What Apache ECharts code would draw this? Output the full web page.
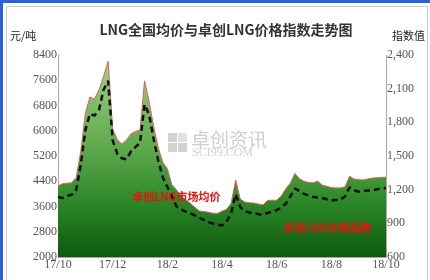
<!DOCTYPE html>
<html>
<head>
<meta charset="utf-8">
<script src="https://cdn.jsdelivr.net/npm/echarts@6/dist/echarts.min.js"></script>
<style>
html,body{margin:0;padding:0;background:#fff;}
#chart{width:430px;height:280px;}
</style>
</head>
<body>
<div id="chart"></div>
<script>
const titleText = 'LNG全国均价与卓创LNG价格指数走势图';
const leftUnit = '元/吨';
const rightUnit = '指数值';
const seriesNames = ['卓创LNG市场均价', '卓创LNG价格指数'];
const tickLabels = ['17/10', '17/12', '18/2', '18/4', '18/6', '18/8', '18/10'];

const categories = [
  '17/10/01','17/10/06','17/10/11','17/10/16','17/10/21','17/10/26',
  '17/11/01','17/11/06','17/11/11','17/11/16','17/11/21','17/11/26',
  '17/12/01','17/12/06','17/12/11','17/12/16','17/12/21','17/12/26',
  '18/01/01','18/01/06','18/01/11','18/01/16','18/01/21','18/01/26',
  '18/02/01','18/02/06','18/02/11','18/02/16','18/02/21','18/02/26',
  '18/03/01','18/03/06','18/03/11','18/03/16','18/03/21','18/03/26',
  '18/04/01','18/04/06','18/04/11','18/04/16','18/04/21','18/04/26',
  '18/05/01','18/05/06','18/05/11','18/05/16','18/05/21','18/05/26',
  '18/06/01','18/06/06','18/06/11','18/06/16','18/06/21','18/06/26',
  '18/07/01','18/07/06','18/07/11','18/07/16','18/07/21','18/07/26',
  '18/08/01','18/08/06','18/08/11','18/08/16','18/08/21','18/08/26',
  '18/09/01','18/09/06','18/09/11','18/09/16','18/09/21','18/09/26',
  '18/10/01'
];

// 卓创LNG市场均价 (元/吨, left axis)
const avgPrice = [
  4250,4320,4340,4350,4520,5350,
  6550,7070,7000,7300,7720,8200,
  6050,5720,5580,5700,5900,5980,
  6020,7580,6930,6130,5460,5000,
  4800,4290,4130,3930,3820,3710,
  3580,3460,3440,3420,3390,3380,
  3450,3510,3700,4440,3840,3740,
  3720,3710,3680,3650,3790,3800,
  3800,3930,4160,4340,4650,4480,
  4400,4360,4350,4400,4280,4240,
  4200,4190,4190,4220,4560,4470,
  4450,4440,4470,4500,4510,4520,
  4530
];

// 卓创LNG价格指数 (right axis)
const priceIndex = [
  1135,1125,1145,1155,1200,1420,
  1730,1875,1860,1910,2090,2170,
  1640,1520,1480,1470,1540,1580,
  1615,1960,1870,1650,1460,1310,
  1225,1140,1050,1025,1005,990,
  970,950,930,910,898,888,
  880,915,990,1160,1045,1010,
  997,990,982,975,992,1005,
  1017,1040,1075,1140,1210,1190,
  1163,1148,1134,1130,1125,1115,
  1106,1108,1110,1140,1220,1195,
  1182,1190,1192,1195,1203,1210,
  1215
];

const chart = echarts.init(document.getElementById('chart'), null, {renderer: 'canvas'});
const axisFont = {fontFamily: 'Liberation Serif', fontSize: 12, color: '#555'};

chart.setOption({
  backgroundColor: '#fff',
  animation: false,
  title: {
    text: titleText,
    left: 221, top: 18, textAlign: 'center',
    textStyle: {fontFamily: 'Noto Sans CJK SC', fontSize: 14, fontWeight: 'bold', color: '#333'}
  },
  grid: {left: 58, right: 44, top: 55, bottom: 23, containLabel: false},
  xAxis: {
    type: 'category',
    data: categories,
    boundaryGap: false,
    axisLine: {show: true, lineStyle: {color: '#aaa', width: 1}},
    axisTick: {show: false},
    splitLine: {show: false},
    axisLabel: Object.assign({}, axisFont, {
      interval: 11,
      margin: 2,
      formatter: function (v, idx) { return idx % 12 === 0 ? tickLabels[idx / 12] : ''; }
    })
  },
  yAxis: [
    {
      type: 'value', min: 2000, max: 8400, interval: 800, position: 'left',
      axisLine: {show: true, lineStyle: {color: '#aaa', width: 1}},
      axisTick: {show: false},
      splitLine: {show: false},
      axisLabel: Object.assign({}, axisFont, {
        margin: 1,
        formatter: function (v) { return String(v); }
      })
    },
    {
      type: 'value', min: 600, max: 2400, interval: 300, position: 'right',
      axisLine: {show: true, lineStyle: {color: '#aaa', width: 1}},
      axisTick: {show: false},
      splitLine: {show: false},
      axisLabel: Object.assign({}, axisFont, {
        margin: 1,
        formatter: function (v) { return v.toLocaleString('en-US'); }
      })
    }
  ],
  series: [
    {
      name: seriesNames[0],
      type: 'line',
      yAxisIndex: 0,
      data: avgPrice,
      showSymbol: false,
      smooth: false,
      lineStyle: {color: '#e0605a', width: 1},
      areaStyle: {
        origin: 'start',
        opacity: 1,
        color: new echarts.graphic.LinearGradient(0, 0, 0, 1, [
          {offset: 0, color: '#9ccf88'},
          {offset: 0.45, color: '#5ea84c'},
          {offset: 0.7, color: '#2f8a2a'},
          {offset: 1, color: '#0d5a0f'}
        ])
      },
      z: 2
    },
    {
      name: seriesNames[1],
      type: 'line',
      yAxisIndex: 1,
      data: priceIndex,
      showSymbol: false,
      smooth: false,
      lineStyle: {color: '#111', width: 2.5, type: [6, 4]},
      z: 3
    }
  ],
  graphic: [
    {type: 'rect', shape: {x: 0, y: 0, width: 430, height: 3}, style: {fill: '#2a62d6'}, z: 100},
    {type: 'rect', shape: {x: 0, y: 0, width: 3, height: 280}, style: {fill: '#2a62d6'}, z: 100},
    {type: 'rect', shape: {x: 6.5, y: 6.5, width: 421, height: 280}, style: {fill: 'none', stroke: '#d0d0d0', lineWidth: 1}, z: 100},
    {type: 'text', left: 10, top: 30, style: {text: leftUnit, font: '11px "Noto Sans CJK SC"', fill: '#222'}, z: 100},
    {type: 'text', left: 392, top: 30, style: {text: rightUnit, font: '11px "Noto Sans CJK SC"', fill: '#222'}, z: 100},
    // watermark
    {type: 'rect', shape: {x: 168, y: 133, width: 9, height: 9}, style: {fill: '#d2d2d2'}, z: 0},
    {type: 'rect', shape: {x: 178, y: 133, width: 9, height: 9}, style: {fill: '#e2e2e2'}, z: 0},
    {type: 'rect', shape: {x: 168, y: 143, width: 9, height: 9}, style: {fill: '#d2d2d2'}, z: 0},
    {type: 'rect', shape: {x: 178, y: 143, width: 9, height: 9}, style: {fill: '#d2d2d2'}, z: 0},
    {type: 'text', left: 191, top: 130, style: {text: '卓创资讯', font: '19px "Noto Sans CJK SC"', fill: '#cfcfcf'}, z: 0},
    {type: 'text', left: 192, top: 147, style: {text: 'SCI99.COM', font: '12px "Liberation Serif"', fill: '#cfcfcf'}, z: 0},
    // in-plot series labels
    {type: 'text', left: 132, top: 191, style: {text: seriesNames[0], font: 'bold 11px "Noto Sans CJK SC"', fill: '#ee1010'}, z: 50},
    {type: 'text', left: 283, top: 222, style: {text: seriesNames[1], font: 'bold 11px "Noto Sans CJK SC"', fill: '#ee1010'}, z: 50}
  ]
});
</script>
</body>
</html>
